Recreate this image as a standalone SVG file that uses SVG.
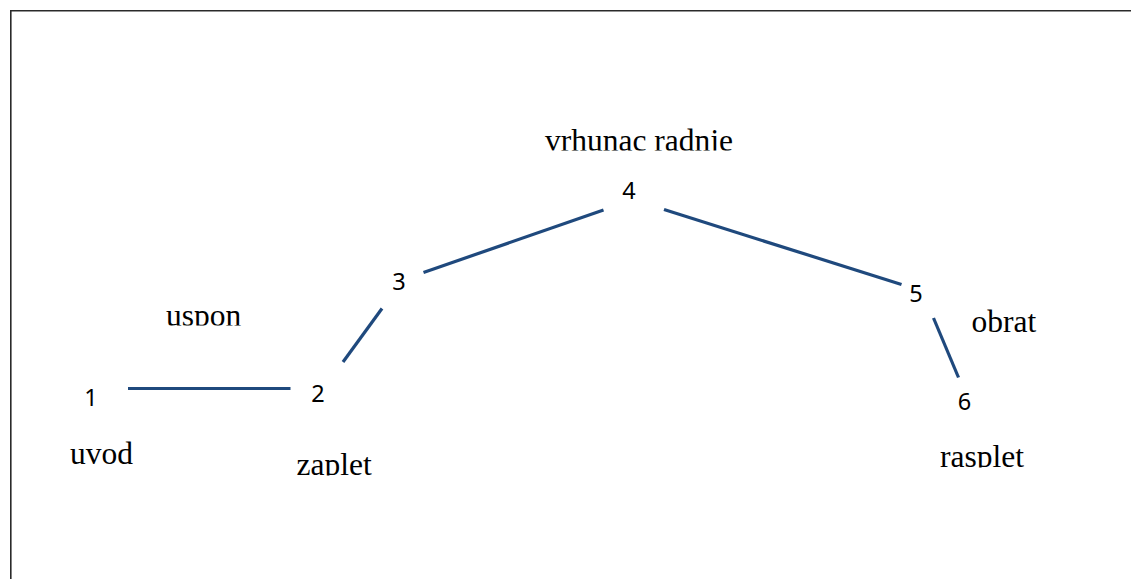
<svg xmlns="http://www.w3.org/2000/svg" width="1131" height="579" viewBox="0 0 1131 579">
<style>
.frame{fill:none;stroke:#2a2a2a;stroke-width:1.6}
.edge{stroke:#1f497d;stroke-width:3.2;fill:none}
.num{font-family:"Noto Sans","Open Sans",sans-serif;font-size:23.5px;fill:#000;text-anchor:middle}
.lbl{font-family:"Liberation Serif","Times New Roman",serif;font-size:31.5px;fill:#000}
</style>
<defs>
<clipPath id="c-vrh"><rect x="530" y="110" width="230" height="40.5"/></clipPath>
<clipPath id="c-usp"><rect x="150" y="290" width="110" height="35.5"/></clipPath>
<clipPath id="c-zap"><rect x="280" y="430" width="110" height="45.5"/></clipPath>
<clipPath id="c-ras"><rect x="925" y="425" width="120" height="42.5"/></clipPath>
</defs>
<rect width="1131" height="579" fill="#fff"/>
<path class="frame" d="M10.8,579 V10.8 H1131"/>
<g id="connectors">
<line class="edge" x1="128" y1="388.5" x2="290.5" y2="388.5"/>
<line class="edge" x1="343" y1="362" x2="382" y2="308.5"/>
<line class="edge" x1="423.5" y1="272.5" x2="603.5" y2="210"/>
<line class="edge" x1="664" y1="209.5" x2="901.5" y2="284.5"/>
<line class="edge" x1="933.5" y1="318" x2="958.5" y2="377.5"/>
</g>
<g id="n1"><text class="num" x="91" y="406">1</text></g>
<g id="n2"><text class="num" x="318" y="402">2</text></g>
<g id="n3"><text class="num" x="399" y="290">3</text></g>
<g id="n4"><text class="num" x="629" y="199">4</text></g>
<g id="n5"><text class="num" x="916" y="302">5</text></g>
<g id="n6"><text class="num" x="964.5" y="410">6</text></g>
<g id="l-vrhunac"><text class="lbl" x="545" y="151" clip-path="url(#c-vrh)">vrhunac radnje</text></g>
<g id="l-uspon"><text class="lbl" x="166" y="325.5" clip-path="url(#c-usp)">uspon</text></g>
<g id="l-uvod"><text class="lbl" x="70" y="463.5">uvod</text></g>
<g id="l-zaplet"><text class="lbl" x="296.5" y="475" clip-path="url(#c-zap)">zaplet</text></g>
<g id="l-obrat"><text class="lbl" x="971.5" y="331.5">obrat</text></g>
<g id="l-rasplet"><text class="lbl" x="940" y="467" clip-path="url(#c-ras)">rasplet</text></g>
</svg>
